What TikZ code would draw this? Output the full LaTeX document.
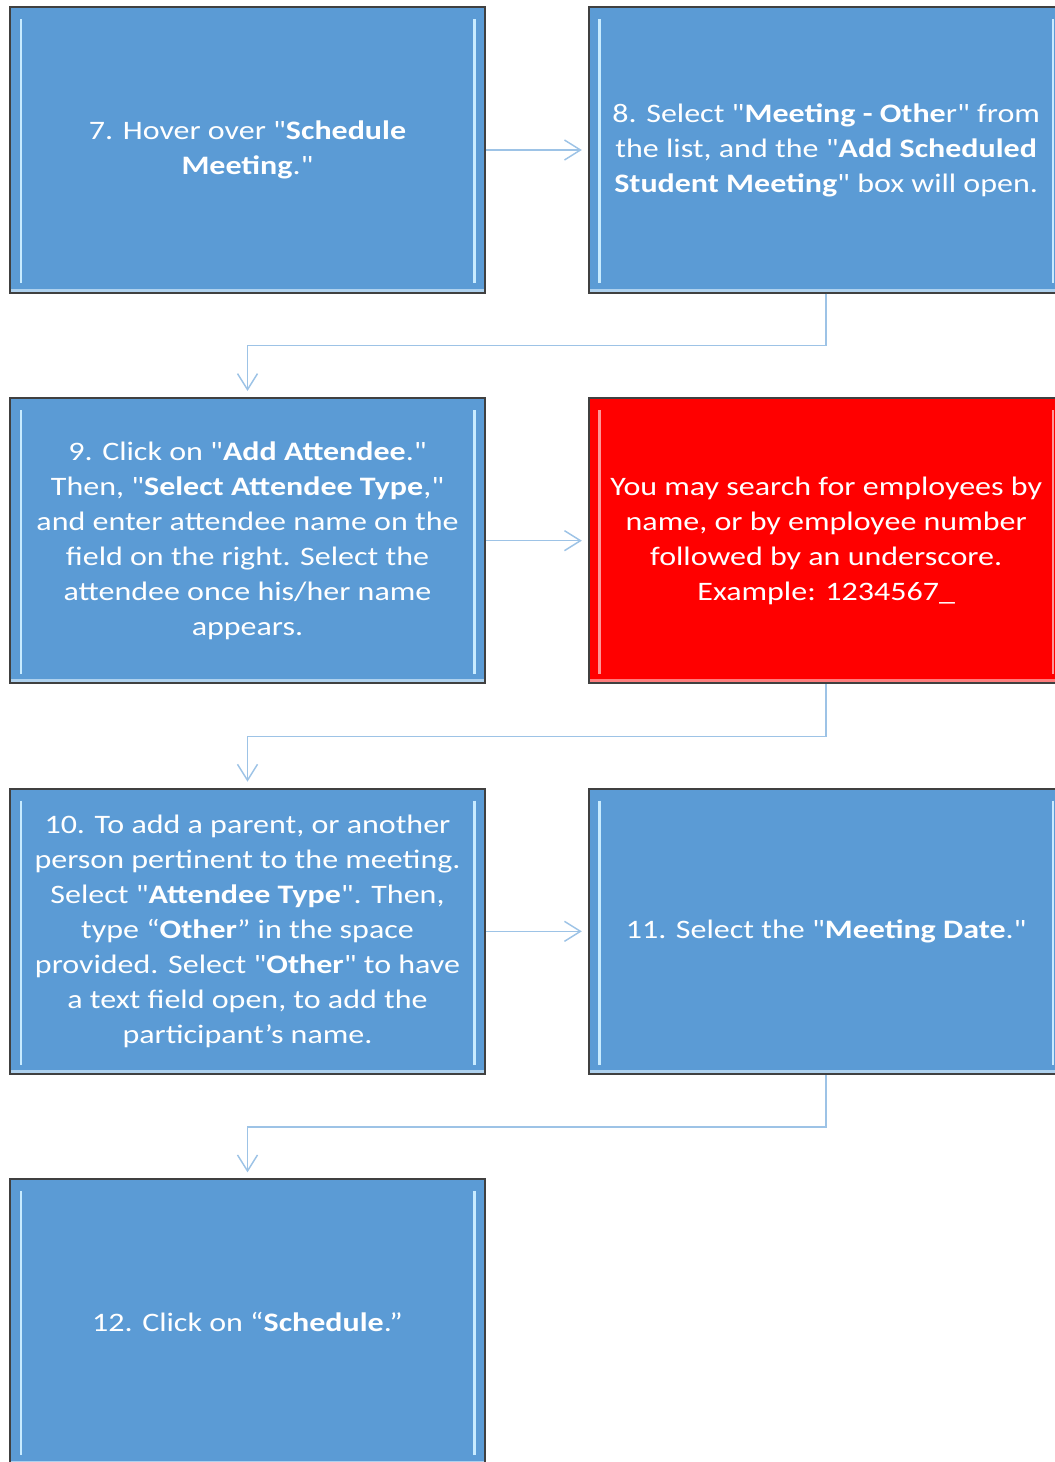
\documentclass[tikz,border=0pt]{standalone}
\usepackage{fontspec}
\newfontfamily\stepfont{Carlito}[FakeStretch=1.2]
\usepackage{xcolor}
\usepackage{tikz}
\usetikzlibrary{arrows.meta, positioning}
\definecolor{stepblue}{RGB}{91,155,213}
\definecolor{notered}{RGB}{255,0,0}
\definecolor{edgegray}{RGB}{64,64,64}
\definecolor{linkblue}{RGB}{157,195,230}
\definecolor{glowblue}{RGB}{200,235,255}
\definecolor{glowred}{RGB}{255,150,150}

\begin{document}
\begin{tikzpicture}[
    x=0.75pt, y=0.75pt,
    node distance=77.5pt and 76.5pt,
    >={Straight Barb[length=12pt, width=15pt]},
    bevel/.style={path picture={
        \fill[#1!45!white, opacity=0.6] (path picture bounding box.south west) rectangle ([yshift=3pt]path picture bounding box.south east);
        \draw[#1, line width=2pt] ([xshift=8pt,yshift=-9pt]path picture bounding box.north west) -- ([xshift=8pt,yshift=7pt]path picture bounding box.south west);
        \draw[#1, line width=2pt] ([xshift=-8pt,yshift=-9pt]path picture bounding box.north east) -- ([xshift=-8pt,yshift=7pt]path picture bounding box.south east);
    }},
    stepbox/.style={draw=edgegray, line width=1.5pt, fill=stepblue, bevel=glowblue, minimum width=356pt, minimum height=214pt,
        align=center, text=white, font=\stepfont\fontsize{20}{26.25}\selectfont},
    notebox/.style={stepbox, fill=notered, bevel=glowred},
    link/.style={->, linkblue, line width=1.1pt, shorten >=4.5pt},
]
    \useasboundingbox (0,0) rectangle (1055,-1462);
    \clip (0,0) rectangle (1055,-1462);

    \node[stepbox] (s7) at (247.5,-150) {7. Hover over "\textbf{Schedule}\\\textbf{Meeting}."};
    \node[stepbox, right=of s7] (s8) {8. Select "\textbf{Meeting - Othe}r" from\\the list, and the "\textbf{Add Scheduled}\\\textbf{Student Meeting}" box will open.};

    \node[stepbox, below=of s7] (s9) {9. Click on "\textbf{Add Attendee}."\\Then, "\textbf{Select Attendee Type},"\\and enter attendee name on the\\field on the right. Select the\\attendee once his/her name\\appears.};
    \node[notebox, right=of s9] (note) {You may search for employees by\\name, or by employee number\\followed by an underscore.\\Example: 1234567\_};

    \node[stepbox, below=of s9] (s10) {10. To add a parent, or another\\person pertinent to the meeting.\\Select "\textbf{Attendee Type}". Then,\\type “\textbf{Other}” in the space\\provided. Select "\textbf{Other}" to have\\a text field open, to add the\\participant’s name.};
    \node[stepbox, right=of s10] (s11) {11. Select the "\textbf{Meeting Date}."};

    \node[stepbox, below=of s10] (s12) {12. Click on “\textbf{Schedule}.”};

    \draw[link] (s7) -- (s8);
    \draw[link] (s8.south) -- ++(0,-52) -| (s9.north);
    \draw[link] (s9) -- (note);
    \draw[link] (note.south) -- ++(0,-52) -| (s10.north);
    \draw[link] (s10) -- (s11);
    \draw[link] (s11.south) -- ++(0,-52) -| (s12.north);
\end{tikzpicture}
\end{document}
